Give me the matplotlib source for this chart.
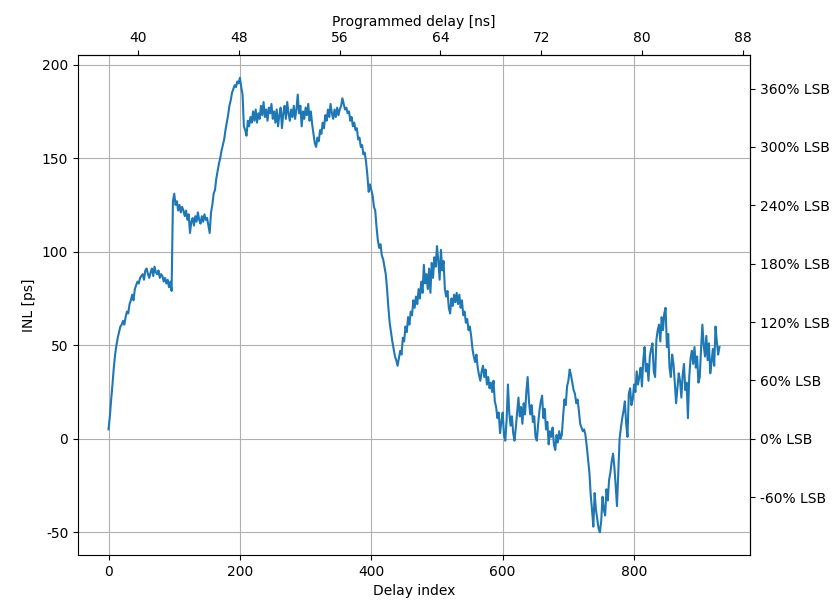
import numpy as np
import matplotlib
matplotlib.use("Agg")
import matplotlib.pyplot as plt
from matplotlib.ticker import FixedLocator, FuncFormatter

plt.rcParams["axes.unicode_minus"] = False

# INL values [ps], sampled every 2nd delay index
inl = [
    5, 12, 21, 29, 38, 45, 50, 54, 57, 60, 61, 63, 61, 65, 68, 67, 72, 74, 77, 74,
    80, 82, 84, 83, 86, 87, 88, 85, 90, 91, 88, 86, 89, 91, 87, 92, 89, 88, 90, 86,
    88, 87, 84, 86, 83, 85, 81, 84, 79,
    127, 131, 125, 127, 122, 125, 121, 124, 122, 119, 122, 117, 120, 110, 116, 118, 114, 119, 116, 121,
    117, 115, 119, 116, 120, 117, 118, 114, 110, 121, 125, 131, 133, 139, 143, 147, 150, 154, 157, 160,
    165, 169, 173, 178, 181, 185, 187, 189, 188, 191, 190, 193, 188, 184, 167, 165, 162, 170, 167, 172,
    169, 175, 170, 176, 169, 174, 171, 178, 173, 180, 172, 176, 170, 177, 174, 179, 171, 175, 169, 176,
    167, 173, 177, 166, 174, 178, 171, 180, 174, 170, 176, 172, 178, 171, 176, 184, 174, 178, 167, 175,
    171, 177, 173, 179, 170, 175, 168, 163, 158, 156, 161, 159, 165, 163, 169, 166, 173, 170, 176, 172,
    179, 174, 171, 176, 172, 177, 173, 176, 178, 182, 179, 176, 177, 174, 175, 170, 172, 167, 169, 165,
    166, 160, 161, 156, 157, 152, 153, 148, 141, 132, 136, 133, 130, 124, 122, 113, 106, 102, 104, 98,
    96, 92, 88, 80, 70, 62, 57, 52, 48, 44, 42, 39, 43, 47, 45, 54, 52, 60, 57, 65,
    61, 68, 66, 74, 70, 76, 72, 80, 75, 84, 78, 93, 83, 88, 80, 91, 78, 94, 86, 97,
    92, 103, 95, 85, 101, 90, 95, 80, 76, 79, 70, 67, 75, 71, 77, 73, 78, 72, 77, 70,
    74, 66, 68, 62, 64, 58, 60, 55, 48, 44, 41, 45, 38, 34, 31, 36, 39, 33, 37, 29,
    33, 27, 30, 25, 31, 20, 17, 11, 14, 3, 9, 14, 2, -1, 10, 29, 14, 7, 12, 3,
    -1, 6, 14, 22, 12, 17, 8, 19, 13, 25, 33, 20, 13, 18, 9, 12, 1, -1, 8, 15,
    20, 23, 11, 16, 5, 9, -3, 4, 1, 6, -3, -6, 2, -2, 4, 0, 2, 12, 21, 18,
    28, 31, 37, 34, 30, 26, 24, 19, 21, 15, 8, 6, 4, 5, 2, -4, -11, -18, -30, -38,
    -47, -29, -38, -43, -48, -50, -44, -31, -38, -41, -27, -33, -22, -18, -12, -8, -15, -25, -36, -18,
    0, 6, 11, 15, 20, 8, 1, 24, 27, 18, 21, 29, 25, 36, 29, 33, 38, 28, 42, 49,
    36, 40, 31, 44, 48, 51, 36, 33, 53, 58, 61, 52, 65, 58, 67, 70, 49, 56, 38, 33,
    45, 40, 30, 19, 27, 35, 31, 22, 34, 40, 26, 30, 11, 33, 43, 47, 40, 49, 38, 44,
    30, 33, 48, 61, 50, 44, 55, 42, 51, 35, 41, 48, 39, 60, 52, 45, 49,
]
index_step = 2
delay_index = np.arange(len(inl)) * index_step

x_ticks = [0, 200, 400, 600, 800]
y_ticks = [-50, 0, 50, 100, 150, 200]
top_ticks = [40, 48, 56, 64, 72, 80, 88]
right_ticks = [-60, 0, 60, 120, 180, 240, 300, 360]

lsb_ps = 52.0          # LSB size used for right axis
delay_offset_ns = 37.66
delay_step_ns = 0.05214

fig = plt.figure(figsize=(8.36, 6.03), dpi=100)
ax = fig.add_axes([78 / 836, 48 / 603, 672 / 836, 500 / 603])
ax.plot(delay_index, inl, color="#1f77b4", linewidth=1.5)
ax.grid(True)
ax.set_xlabel("Delay index")
ax.set_ylabel("INL [ps]")
ax.set_xticks(x_ticks)
ax.set_yticks(y_ticks)

top = ax.secondary_xaxis(
    "top",
    functions=(lambda i: delay_offset_ns + i * delay_step_ns,
               lambda t: (t - delay_offset_ns) / delay_step_ns),
)
top.set_xlabel("Programmed delay [ns]")
top.xaxis.set_major_locator(FixedLocator(top_ticks))

right = ax.secondary_yaxis(
    "right",
    functions=(lambda y: y / lsb_ps * 100, lambda p: p * lsb_ps / 100),
)
right.yaxis.set_major_locator(FixedLocator(right_ticks))
right.yaxis.set_major_formatter(FuncFormatter(lambda v, p: f"{v:.0f}% LSB"))

fig.savefig("out.png", dpi=100)
